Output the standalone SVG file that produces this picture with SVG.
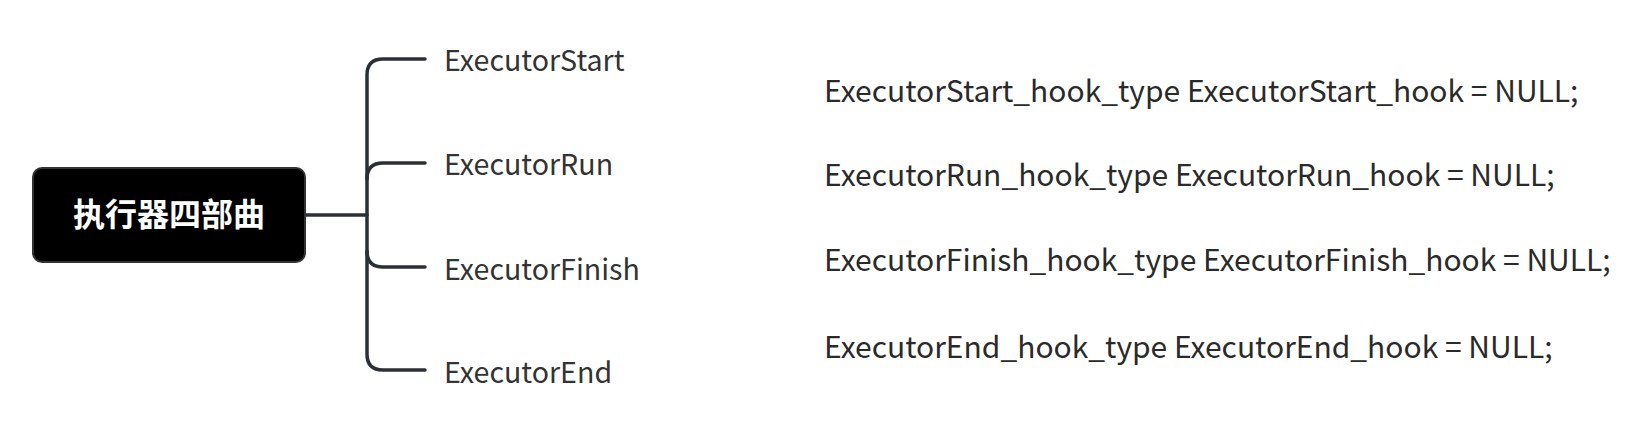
<svg xmlns="http://www.w3.org/2000/svg" width="1636" height="426" viewBox="0 0 1636 426">
<style>
.lbl{font-family:"Noto Sans CJK SC","Noto Sans",sans-serif;font-size:28.6px;fill:#333;}
.code{font-family:"Noto Sans CJK SC","Noto Sans",sans-serif;font-size:30px;fill:#2a2a2a;}
.title{font-family:"Noto Sans CJK SC",sans-serif;font-size:32px;font-weight:bold;fill:#fff;}
.conn{fill:none;stroke:#2b2f36;stroke-width:3.5;stroke-linecap:round;}
</style>
<rect width="1636" height="426" fill="#fff"/>
<g id="connectors">
<path class="conn" d="M305 215 H367"/>
<path class="conn" d="M425 59 H383 Q367 59 367 75 V354 Q367 370 383 370 H425"/>
<path class="conn" d="M367 179 Q367 163 383 163 H425"/>
<path class="conn" d="M367 251 Q367 267 383 267 H425"/>
</g>
<g id="root">
<rect x="33" y="168" width="272" height="94" rx="9" fill="#000" stroke="#333" stroke-width="2"/>
<text class="title" x="169" y="226" text-anchor="middle">执行器四部曲</text>
</g>
<g id="n-start"><text class="lbl" x="444" y="71">ExecutorStart</text></g>
<g id="n-run"><text class="lbl" x="444" y="175">ExecutorRun</text></g>
<g id="n-finish"><text class="lbl" x="444" y="280">ExecutorFinish</text></g>
<g id="n-end"><text class="lbl" x="444" y="383">ExecutorEnd</text></g>
<g id="code-start"><text class="code" x="824" y="102">ExecutorStart_hook_type ExecutorStart_hook = NULL;</text></g>
<g id="code-run"><text class="code" x="824" y="186">ExecutorRun_hook_type ExecutorRun_hook = NULL;</text></g>
<g id="code-finish"><text class="code" x="824" y="271">ExecutorFinish_hook_type ExecutorFinish_hook = NULL;</text></g>
<g id="code-end"><text class="code" x="824" y="358">ExecutorEnd_hook_type ExecutorEnd_hook = NULL;</text></g>
</svg>
